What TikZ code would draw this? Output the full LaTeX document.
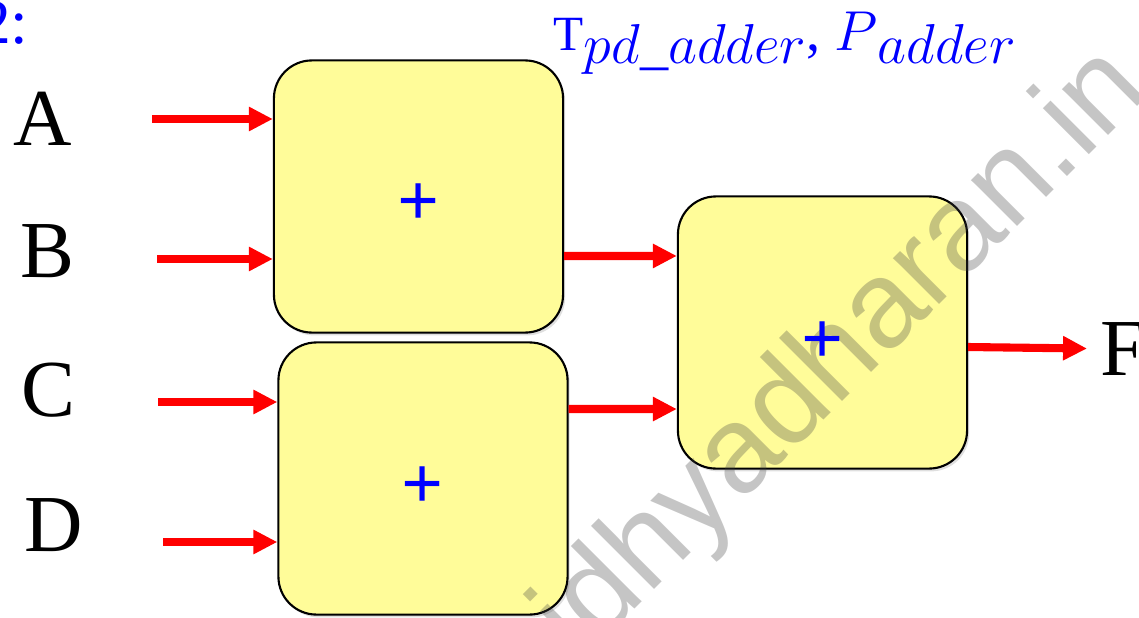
\documentclass[tikz,border=0pt]{standalone}
\usepackage{fix-cm}
\usepackage{fontspec}
\setmainfont{Liberation Serif}
\newfontfamily\wmfont{Liberation Sans}
\usepackage{xcolor}
\usetikzlibrary{arrows.meta,positioning,shadows}

\definecolor{addfill}{RGB}{255,252,153}

\begin{document}
\begin{tikzpicture}[x=0.01cm, y=-0.01cm, >=Stealth,
    adder/.style={draw, line width=0.6pt, fill=addfill, rounded corners=0.38cm,
      minimum width=2.89cm, minimum height=2.72cm, inner sep=0pt,
      drop shadow={shadow xshift=0.6pt, shadow yshift=-0.8pt, opacity=0.25}},
    sig/.style={draw=red, line width=2.3pt, -{Triangle[length=6.8pt,width=6.5pt]}},
    lbl/.style={inner sep=0pt, font=\fontsize{23}{26}\selectfont},
    plus/.style={inner sep=0pt, text=blue, font=\fontsize{21}{24}\selectfont\bfseries},
    title/.style={inner sep=0pt, text=blue, font=\fontsize{16}{19}\selectfont},
    wmark/.style={inner sep=0pt, text=black!75, text opacity=0.3,
      font=\wmfont\fontsize{35}{38}\selectfont}]

  \useasboundingbox (0,0) rectangle (1139,618);

  % Define the adder blocks
  \node[adder] (add1) at (418.5,196.5) {};
  \node[adder] (add2) at (423,478.5) {};
  \node[adder] (add3) at (822.5,332.5) {};

  % site mark across the picture
  \node[wmark, rotate=45, anchor=base east] (web) at (1152,92) {vidhyadharan.in};

  \node[plus] (p1) at ([yshift=-0.085cm]add1.center) {+};
  \node[plus] (p2) at ([yshift=-0.095cm]add2.center) {+};
  \node[plus] (p3) at ([yshift=-0.1cm]add3.center) {+};

  % Inputs and output
  \node[lbl, anchor=base west] (A) at (13,145) {A};
  \node[lbl, anchor=base west] (B) at (20,277) {B};
  \node[lbl, anchor=base west] (C) at (21,416) {C};
  \node[lbl, anchor=base west] (D) at (24,551) {D};
  \node[lbl, inner xsep=0.13cm, anchor=base west] (F) at (1087,375) {F};

  \coordinate (inA) at (152,119);
  \coordinate (inB) at (157,259);
  \coordinate (inC) at (158,402);
  \coordinate (inD) at (163,542);

  % Headings
  \node[title, font=\fontsize{18}{21}\selectfont, anchor=base east] (num) at (29,44) {2:};
  \node[title, anchor=base west] (cost) at (553,51)
    {{\fontsize{14}{16}\selectfont T}\raisebox{-0.12cm}{$pd\_adder$}, $P$\raisebox{-0.12cm}{$adder$}};

  % Draw arrows between blocks
  \draw[sig] (inA) -- (inA -| add1.west);
  \draw[sig] (inB) -- (inB -| add1.west);
  \draw[sig] (inC) -- (inC -| add2.west);
  \draw[sig] (inD) -- (inD -| add2.west);
  \draw[sig] ([yshift=-0.595cm]add1.east) -- ([yshift=0.765cm]add3.west);
  \draw[sig] ([yshift=0.695cm]add2.east) -- ([yshift=-0.765cm]add3.west);
  \draw[sig] ([yshift=-0.145cm]add3.east) -- (F.west);
\end{tikzpicture}
\end{document}
